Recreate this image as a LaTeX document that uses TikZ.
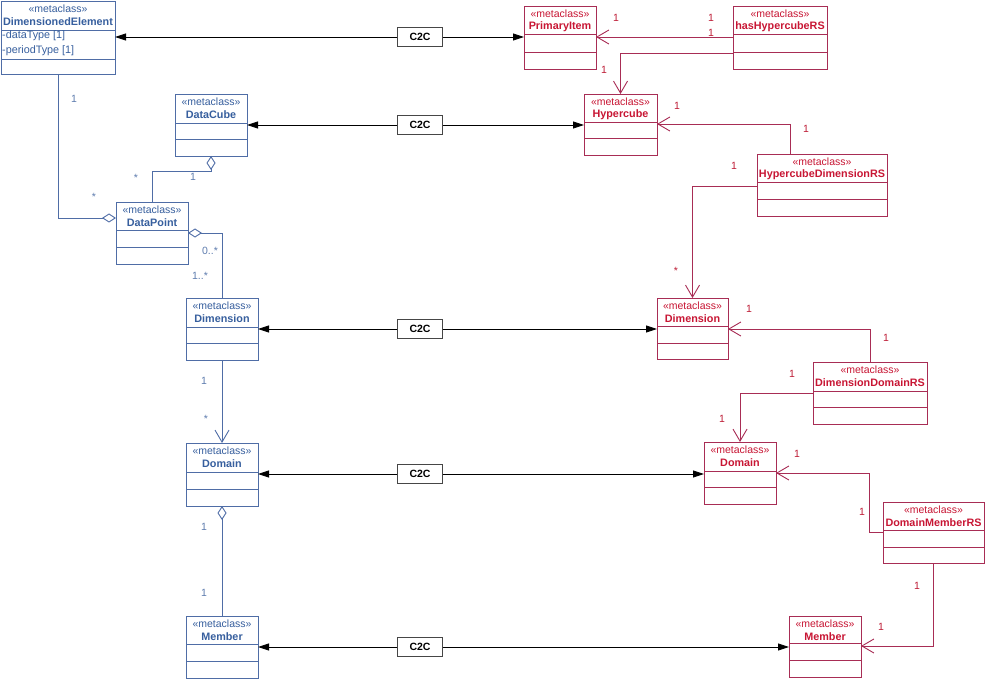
\documentclass[tikz,border=0pt]{standalone}
\usepackage{fontspec}
\setmainfont{Liberation Sans}
\usetikzlibrary{arrows.meta,calc}
\definecolor{blline}{RGB}{79,109,166}
\definecolor{bltxt}{RGB}{55,95,158}
\definecolor{bllab}{RGB}{95,125,175}
\definecolor{rdline}{RGB}{168,45,85}
\definecolor{rdtxt}{RGB}{200,22,52}
\definecolor{rdlab}{RGB}{190,30,55}
\definecolor{c2cgray}{RGB}{70,70,70}
\newcommand\umlcls[9]{%
  \node[draw=#8line, line width=0.9pt, minimum width=#4pt, minimum height=#5pt,
        anchor=north west, inner sep=0pt, outer sep=0pt] (#1) at (#2,#3) {};
  \draw[#8line, line width=0.9pt] ($(#1.north west)+(0,#6)$) -- ($(#1.north east)+(0,#6)$);
  \draw[#8line, line width=0.9pt] ($(#1.north west)+(0,#7)$) -- ($(#1.north east)+(0,#7)$);
  \node[text=#8txt, txt] (#1s) at ($(#1.north)+(0,7.5)$) {«metaclass»};
  \node[text=#8txt, txt, font=\fontsize{10.8}{12}\selectfont\bfseries] (#1t) at ($(#1.north)+(0,20.5)$) {#9};
}
\tikzset{
  txt/.style={font=\fontsize{10.5}{12}\selectfont, inner sep=0pt},
  c2cbox/.style={draw=c2cgray, line width=1pt, fill=white, minimum width=45pt, minimum height=19pt,
        inner sep=0pt, font=\fontsize{10.5}{12}\selectfont\bfseries},
  c2cline/.style={draw=black, line width=0.9pt, -{Triangle[length=11pt,width=7pt]}},
  bconn/.style={draw=blline, line width=0.9pt},
  rconn/.style={draw=rdline, line width=0.9pt},
  openarr/.style={-{Straight Barb[length=12pt,width=14pt,line width=0.9pt]}},
  diam/.style={{Diamond[open,length=14pt,width=9pt,line width=0.9pt]}-},
  blab/.style={txt, text=bllab},
  rlab/.style={txt, text=rdlab},
}
\begin{document}
\begin{tikzpicture}[x=1pt,y=-1pt]
\useasboundingbox[fill=white] (0,0) rectangle (985,679);
% ---------- blue classes ----------
\umlcls{de}{1}{1}{114}{73}{29}{58}{bl}{DimensionedElement}
\node[txt, text=bltxt, anchor=west, font=\fontsize{10.8}{12}\selectfont] (dea1) at ($(de.north west)+(1,35)$) {-dataType [1]};
\node[txt, text=bltxt, anchor=west, font=\fontsize{10.8}{12}\selectfont] (dea2) at ($(de.north west)+(1,50)$) {-periodType [1]};
\umlcls{dc}{175}{94}{72}{62}{29}{45}{bl}{DataCube}
\umlcls{dp}{116}{202}{72}{62}{28}{45}{bl}{DataPoint}
\umlcls{dim}{186}{298}{72}{62}{29}{45}{bl}{Dimension}
\umlcls{dom}{186}{443}{72}{63}{29}{46}{bl}{Domain}
\umlcls{mem}{186}{616}{72}{62}{28}{45}{bl}{Member}
% ---------- red classes ----------
\umlcls{pi}{524}{6}{72}{63}{28}{46}{rd}{PrimaryItem}
\umlcls{hh}{733}{6}{94}{63}{28}{46}{rd}{hasHypercubeRS}
\umlcls{hc}{584}{94}{73}{61}{28}{44}{rd}{Hypercube}
\umlcls{hdrs}{757}{154}{130}{62}{28}{45}{rd}{HypercubeDimensionRS}
\umlcls{rdim}{657}{298}{71}{61}{28}{45}{rd}{Dimension}
\umlcls{ddrs}{813}{362}{114}{62}{29}{45}{rd}{DimensionDomainRS}
\umlcls{rdom}{704}{442}{72}{62}{29}{45}{rd}{Domain}
\umlcls{dmrs}{883}{502}{101}{61}{28}{45}{rd}{DomainMemberRS}
\umlcls{rmem}{789}{616}{72}{61}{27}{44}{rd}{Member}
% ---------- C2C links ----------
\node[c2cbox] (c1) at (420,37) {C2C};
\node[c2cbox] (c2) at (420,125) {C2C};
\node[c2cbox] (c3) at (420,329) {C2C};
\node[c2cbox] (c4) at (420,474) {C2C};
\node[c2cbox] (c5) at (420,647) {C2C};
\draw[c2cline] (c1.west) -- (c1.west -| de.east);
\draw[c2cline] (c1.east) -- (c1.east -| pi.west);
\draw[c2cline] (c2.west) -- (c2.west -| dc.east);
\draw[c2cline] (c2.east) -- (c2.east -| hc.west);
\draw[c2cline] (c3.west) -- (c3.west -| dim.east);
\draw[c2cline] (c3.east) -- (c3.east -| rdim.west);
\draw[c2cline] (c4.west) -- (c4.west -| dom.east);
\draw[c2cline] (c4.east) -- (c4.east -| rdom.west);
\draw[c2cline] (c5.west) -- (c5.west -| mem.east);
\draw[c2cline] (c5.east) -- (c5.east -| rmem.west);
% ---------- blue connectors ----------
\draw[bconn, diam] ($(dp.north west)+(0,16)$) -| ($(de.south west)+(57,0)$);
\node[blab] (l1) at (74,99) {1};
\node[blab] (l2) at (94,197) {*};
\draw[bconn, diam] ($(dc.south west)+(36,0)$) -- ++(0,15) -| ($(dp.north west)+(36,0)$);
\node[blab] (l3) at (193,177) {1};
\node[blab] (l4) at (136,178) {*};
\draw[bconn, diam] ($(dp.north east)+(0,31)$) -| (dim.north);
\node[blab] (l5) at (210,251) {0..*};
\node[blab] (l6) at (200,276) {1..*};
\draw[bconn, openarr] (dim.south) -- (dom.north);
\node[blab] (l7) at (204,381) {1};
\node[blab] (l8) at (206,419) {*};
\draw[bconn, diam] (dom.south) -- (mem.north);
\node[blab] (l9) at (204,527) {1};
\node[blab] (l10) at (204,593) {1};
% ---------- red connectors ----------
\draw[rconn, openarr] ($(hh.north west)+(0,31)$) -- ($(pi.north east)+(0,31)$);
\node[rlab] (r1) at (616,18) {1};
\node[rlab] (r2) at (711,18) {1};
\node[rlab] (r3) at (711,33) {1};
\draw[rconn, openarr] ($(hh.north west)+(0,47)$) -| (hc.north);
\node[rlab] (r4) at (604,70) {1};
\draw[rconn, openarr] ($(hdrs.north west)+(33,0)$) |- ($(hc.north east)+(0,30)$);
\node[rlab] (r5) at (677,106) {1};
\node[rlab] (r6) at (806,129) {1};
\draw[rconn, openarr] ($(hdrs.north west)+(0,32)$) -| (rdim.north);
\node[rlab] (r7) at (734,166) {1};
\node[rlab] (r8) at (676,271) {*};
\draw[rconn, openarr] (ddrs.north) |- ($(rdim.north east)+(0,31)$);
\node[rlab] (r9) at (749,309) {1};
\node[rlab] (r10) at (886,338) {1};
\draw[rconn, openarr] ($(ddrs.north west)+(0,31)$) -| (rdom.north);
\node[rlab] (r11) at (792,374) {1};
\node[rlab] (r12) at (722,419) {1};
\draw[rconn, openarr] ($(dmrs.north west)+(0,30)$) -- ++(-14,0) |- ($(rdom.north east)+(0,31)$);
\node[rlab] (r13) at (797,454) {1};
\node[rlab] (r14) at (862,512) {1};
\draw[rconn, openarr] (dmrs.south) |- ($(rmem.north east)+(0,30)$);
\node[rlab] (r15) at (917,586) {1};
\node[rlab] (r16) at (881,627) {1};
\end{tikzpicture}
\end{document}
